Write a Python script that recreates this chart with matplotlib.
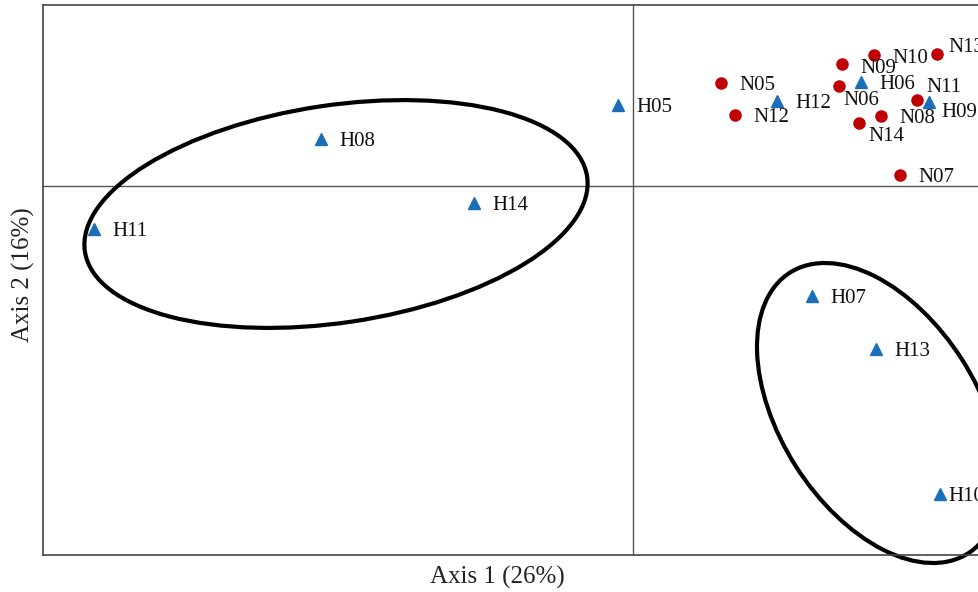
import matplotlib
matplotlib.use("Agg")
import matplotlib.pyplot as plt
from matplotlib.patches import Ellipse
import numpy as np

plt.rcParams["font.family"] = ["Liberation Serif", "DejaVu Serif"]

# PCoA scores, N sites (red circles)
n_labels = ["N05", "N06", "N07", "N08", "N09", "N10", "N11", "N12", "N13", "N14"]
n_x = [0.352, 0.824, 1.068, 0.992, 0.836, 0.964, 1.136, 0.408, 1.216, 0.904]
n_y = [0.412, 0.400, 0.044, 0.280, 0.488, 0.524, 0.344, 0.284, 0.528, 0.252]

# H sites (blue triangles)
h_labels = ["H05", "H06", "H07", "H08", "H09", "H10", "H11", "H12", "H13", "H14"]
h_x = [-0.060, 0.912, 0.716, -1.248, 1.184, 1.228, -2.156, 0.576, 0.972, -0.636]
h_y = [0.324, 0.416, -0.440, 0.188, 0.336, -1.232, -0.172, 0.340, -0.652, -0.068]

# group ellipses: centre x, centre y, width, height, angle
ell_cx = [-1.188, 0.984]
ell_cy = [-0.112, -0.908]
ell_w = [2.031, 1.330]
ell_h = [0.870, 0.790]
ell_ang = [8.5, -57.6]

x_label = "Axis 1 (26%)"
y_label = "Axis 2 (16%)"

# label offsets in pixels (dx, dy up)
offsets = {"N06": (4, -12), "N11": (9, 15), "N14": (9, -11), "H09": (12, -8),
           "N13": (11, 9), "H10": (8, 0), "N09": (18, -2), "N10": (18, -1)}

fig = plt.figure(figsize=(9.79, 5.92), dpi=100)
W, H = 979, 592
# axes run past the right edge of the picture, like the cropped original
ax = fig.add_axes([43 / W, 37 / H, (1040 - 43) / W, 550 / H])
ax.set_xlim(-2.36, 1.628)
ax.set_ylim(-1.476, 0.724)

ax.axhline(0, color="#555555", lw=1.0, zorder=1)
ax.axvline(0, color="#555555", lw=1.0, zorder=1)

for cx, cy, w, h, a in zip(ell_cx, ell_cy, ell_w, ell_h, ell_ang):
    e = Ellipse((cx, cy), w, h, angle=a, fill=False, lw=3.0, ec="black",
                zorder=2, clip_on=False)
    ax.add_patch(e)

ax.plot(n_x, n_y, "o", color="#C00000", ms=8, mec="#C00000", zorder=3, clip_on=False)
ax.plot(h_x, h_y, "^", color="#1B6FB8", ms=9, mec="#1B6FB8", zorder=3, clip_on=False)

for lab, x, y in zip(n_labels + h_labels, n_x + h_x, n_y + h_y):
    dx, dy = offsets.get(lab, (18, 0))
    ax.annotate(lab, (x, y), xytext=(dx, dy), textcoords="offset pixels",
                fontsize=15, ha="left", va="center_baseline", color="#111111",
                annotation_clip=False, zorder=4)

for s in ax.spines.values():
    s.set_color("#444444")
    s.set_linewidth(1.2)
ax.set_xticks([])
ax.set_yticks([])

fig.text(497 / W, 1 - 577 / H, x_label, fontsize=18, ha="center", va="center", color="#222222")
fig.text(23 / W, 1 - 275 / H, y_label, fontsize=18, ha="center", va="center",
         rotation=90, color="#222222")

fig.savefig("out.png", dpi=100)
